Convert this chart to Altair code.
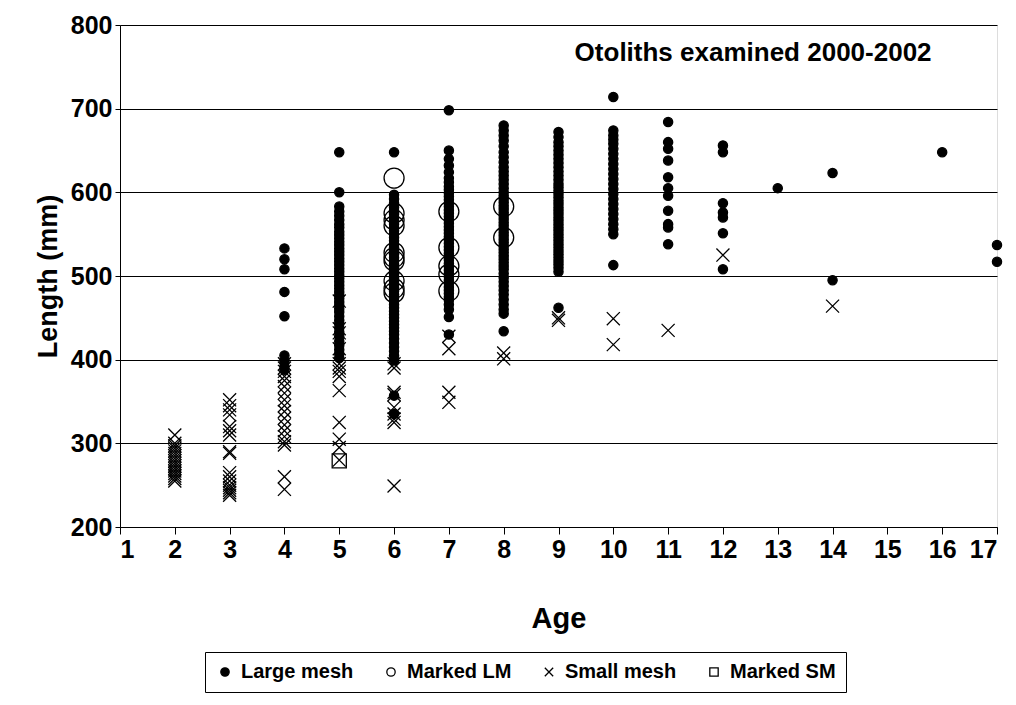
import altair as alt
import pandas as pd

SERIES = ["Large mesh", "Marked LM", "Small mesh", "Marked SM"]
AGES = list(range(1, 18))
Y_TICKS = [200, 300, 400, 500, 600, 700, 800]

large_mesh = {
    4: [533, 520, 508, 481, 452, 405, 398, 392, 388],
    5: [648, 600, 583, 577, 572, 567, 562, 558, 553, 549, 545, 541, 537, 533, 529, 525, 521,
        517, 513, 509, 505, 501, 497, 493, 489, 485, 481, 477, 473, 469, 465, 461, 457, 452,
        447, 443, 438, 433, 428, 422, 417, 412, 407, 402],
    6: [648, 597, 592, 587, 582, 578, 574, 570, 566, 562, 558, 554, 550, 546, 542, 538, 534,
        530, 526, 522, 518, 514, 510, 506, 502, 498, 494, 490, 486, 482, 478, 474, 470, 466,
        462, 458, 454, 450, 446, 442, 438, 434, 430, 425, 420, 415, 410, 405, 399, 357, 335],
    7: [698, 650, 640, 632, 624, 617, 612, 607, 603, 599, 595, 591, 587, 583, 579, 575, 571,
        567, 563, 559, 555, 551, 547, 543, 539, 535, 531, 527, 523, 519, 515, 511, 507, 503,
        499, 495, 491, 487, 483, 479, 475, 471, 466, 460, 451, 430],
    8: [680, 674, 668, 662, 655, 648, 642, 636, 630, 625, 620, 615, 610, 605, 600, 596, 592,
        588, 584, 580, 576, 572, 568, 564, 560, 556, 552, 548, 544, 540, 536, 532, 528, 524,
        520, 516, 512, 508, 503, 498, 493, 488, 483, 478, 472, 466, 460, 455, 434],
    9: [672, 666, 660, 655, 650, 645, 640, 635, 630, 625, 620, 615, 610, 606, 602, 598, 594,
        590, 586, 582, 578, 574, 570, 566, 562, 558, 554, 550, 546, 542, 538, 534, 530, 526,
        522, 518, 514, 510, 505, 462],
    10: [714, 674, 668, 663, 658, 652, 646, 640, 634, 628, 622, 616, 610, 604, 598, 592, 586,
         580, 574, 568, 562, 556, 550, 513],
    11: [684, 660, 652, 638, 618, 605, 596, 578, 562, 558, 538],
    12: [656, 648, 587, 576, 570, 551, 508],
    13: [605],
    14: [623, 495],
    16: [648],
    17: [537, 517],
}

marked_lm = {
    6: [617, 575, 567, 560, 528, 522, 518, 494, 485, 480],
    7: [577, 534, 512, 502, 482],
    8: [583, 546],
}

small_mesh = {
    2: [310, 300, 297, 294, 291, 288, 285, 282, 279, 276, 273, 270, 267, 264, 261, 258, 255],
    3: [352, 345, 340, 334, 320, 315, 310, 290, 288, 265, 260, 255, 250, 247, 244, 241, 238],
    4: [395, 390, 386, 380, 375, 368, 360, 352, 345, 338, 330, 322, 315, 308, 302, 298, 260, 245],
    5: [470, 437, 432, 413, 395, 390, 386, 380, 363, 325, 305, 295, 280],
    6: [395, 390, 361, 358, 343, 335, 329, 325, 249],
    7: [428, 413, 361, 349],
    8: [408, 401],
    9: [450, 447],
    10: [449, 418],
    11: [435],
    12: [525],
    14: [464],
}

marked_sm = {
    5: [279],
}

rows = []
for name, d in zip(SERIES, [large_mesh, marked_lm, small_mesh, marked_sm]):
    for age, vals in d.items():
        for v in vals:
            rows.append({"series": name, "age": age, "length": v})
df = pd.DataFrame(rows)

FONT = "Liberation Sans"
CROSS = "M-1,-1L1,1M1,-1L-1,1"

legend = alt.Legend(title=None, orient="none", legendX=85, legendY=627,
                    direction="horizontal", columns=4,
                    labelFont=FONT, labelFontSize=20, labelFontWeight="bold",
                    labelColor="black", symbolSize=70, symbolStrokeWidth=1.3,
                    strokeColor="black", padding=10, columnPadding=27,
                    labelOffset=6)

points = alt.Chart(df).transform_calculate(
    order_idx="indexof(['Large mesh','Marked LM','Small mesh','Marked SM'], datum.series)",
    sz="{'Large mesh': 85, 'Marked LM': 400, 'Small mesh': 170, 'Marked SM': 200}[datum.series]",
).mark_point(filled=False, strokeWidth=1.3, opacity=1).encode(
    x=alt.X("age:Q", scale=alt.Scale(domain=[1, 17], nice=False, zero=False),
            axis=alt.Axis(values=AGES, title="Age", grid=False, format="d",
                          labelFontSize=25, labelFontWeight="bold", labelFont=FONT,
                          titleFontSize=29, titleFontWeight="bold", titleFont=FONT,
                          tickSize=7, labelPadding=3, titlePadding=42,
                          domainColor="black", tickColor="black", labelColor="black",
                          titleColor="black")),
    y=alt.Y("length:Q", scale=alt.Scale(domain=[200, 800], nice=False, zero=False),
            axis=alt.Axis(values=Y_TICKS, title="Length (mm)", grid=True, gridColor="black",
                          gridWidth=1, gridOpacity=1,
                          labelFontSize=25, labelFontWeight="bold", labelFont=FONT,
                          titleFontSize=27, titleFontWeight="bold", titleFont=FONT,
                          tickSize=5, labelPadding=3, titlePadding=8,
                          domainColor="black", tickColor="black", labelColor="black",
                          titleColor="black")),
    shape=alt.Shape("series:N", scale=alt.Scale(domain=SERIES, range=["circle", "circle", CROSS, "square"]),
                    legend=legend),
    fill=alt.Fill("series:N", scale=alt.Scale(domain=SERIES, range=["black", "transparent", "transparent", "transparent"]),
                  legend=legend),
    stroke=alt.Stroke("series:N", scale=alt.Scale(domain=SERIES, range=["black", "black", "black", "black"]),
                      legend=legend),
    size=alt.Size("sz:Q", scale=None, legend=None),
    order=alt.Order("order_idx:Q"),
)

note = alt.Chart(pd.DataFrame({"age": [12.55], "length": [767], "t": ["Otoliths examined 2000-2002"]})).mark_text(
    font=FONT, fontSize=26, fontWeight="bold", color="black", align="center", baseline="middle"
).encode(x="age:Q", y="length:Q", text="t:N")

chart = alt.layer(points, note).properties(
    width=877, height=502,
    autosize=alt.AutoSizeParams(type="none"),
    padding={"left": 112, "top": 17, "right": 11, "bottom": 170},
).configure_view(stroke="black", strokeWidth=1).configure(background="white")

chart.save("out.html", embed_options={"renderer": "svg", "actions": False})
